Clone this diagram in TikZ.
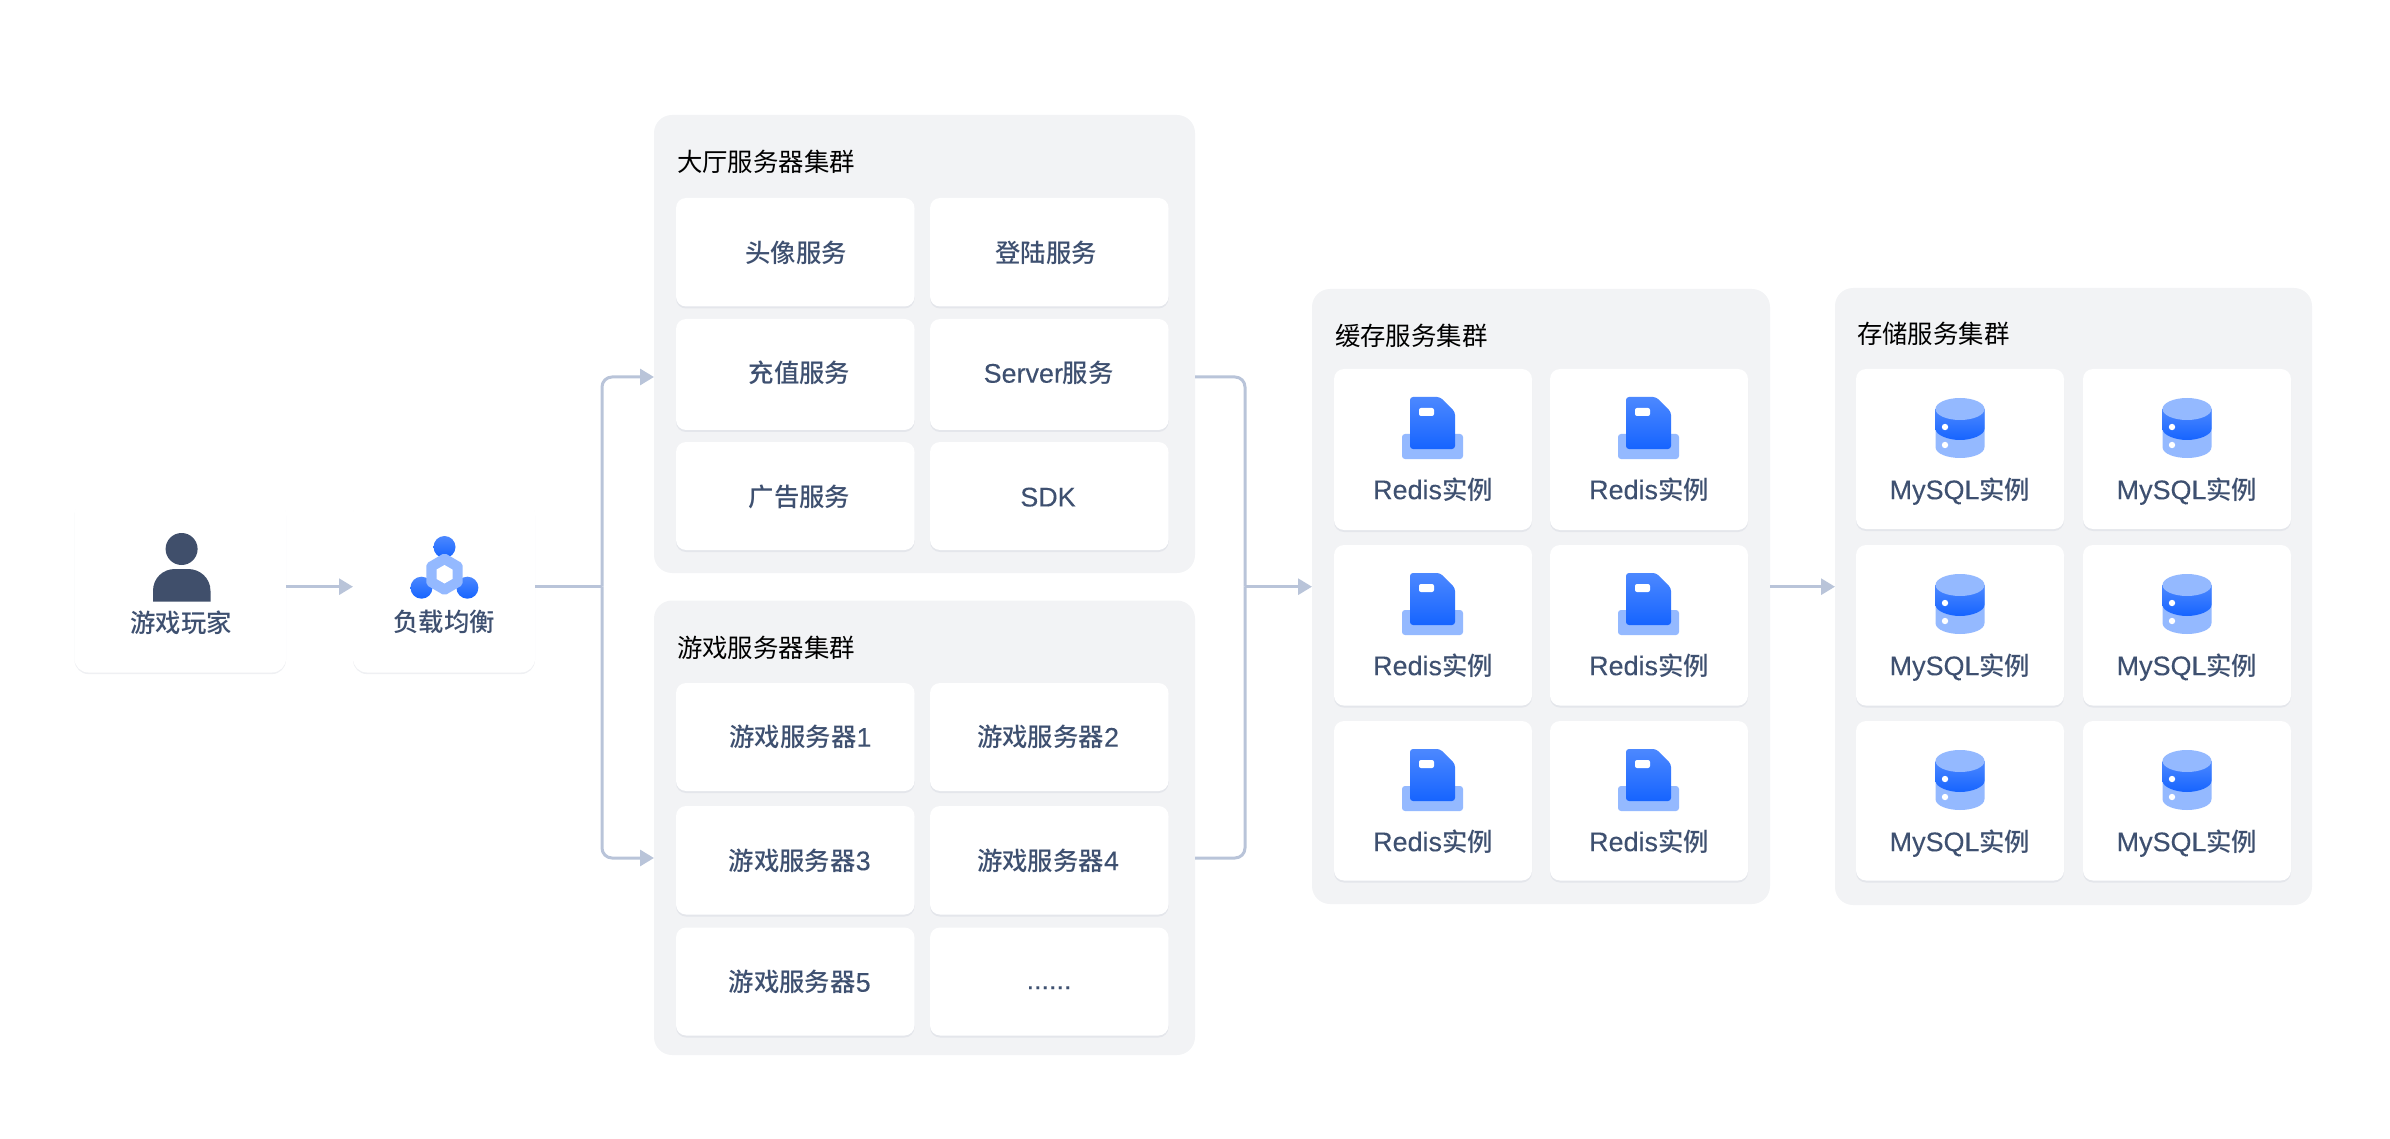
\documentclass[tikz,border=0pt]{standalone}
\usepackage{fontspec}
\setmainfont{Noto Sans CJK SC}
\newfontfamily\medcjk{Noto Sans CJK SC Medium}
\newfontfamily\lat[Scale=1.06,FakeBold=0.12]{Liberation Sans}
\usetikzlibrary{arrows.meta,shadows,calc}
\definecolor{panelgray}{HTML}{F2F3F5}
\definecolor{shadowgray}{HTML}{E4E6EB}
\definecolor{softshadow}{HTML}{EFF0F3}
\definecolor{cardtext}{HTML}{3E5070}
\definecolor{connline}{HTML}{B9C4D9}
\definecolor{lightblue}{HTML}{94B9FF}
\definecolor{gradtop}{HTML}{4C88FF}
\definecolor{gradbot}{HTML}{1664FF}
\definecolor{usernavy}{HTML}{404F6B}
\newcommand{\boxnode}[6]{\node[#2,minimum width={(#5-#3)*0.5pt},minimum height={(#6-#4)*0.5pt}] (#1) at ({(#3+#5)/2},{(#4+#6)/2}) {};}
\tikzset{
  txt/.style={font=\fontsize{12.7pt}{15pt}\selectfont,inner sep=0pt,outer sep=0pt,text height=11.2pt,text depth=1.5pt},
  panelbox/.style={fill=panelgray,rounded corners=9pt,inner sep=0pt,outer sep=0pt},
  cardbox/.style={fill=white,inner sep=0pt,outer sep=0pt,rounded corners=5pt,general shadow={fill=shadowgray,shadow yshift=-1pt}},
  topcard/.style={fill=white,rounded corners=7pt,inner sep=0pt,outer sep=0pt,general shadow={fill=softshadow,shadow yshift=-0.8pt}},
  paneltitle/.style={txt,text=black,anchor=west},
  cardlabel/.style={txt,text=cardtext,font=\fontsize{12.7pt}{15pt}\selectfont\medcjk},
  conn/.style={draw=connline,line width=1.5pt},
  connarrow/.style={conn,-{Triangle[length=7pt,width=8pt]}},
  roundbend/.style={rounded corners=5pt},
  redisicon/.pic={
    \fill[lightblue,rounded corners=1.5pt] (-31,65) rectangle (30,90);
    \shade[top color=gradtop,bottom color=gradbot,rounded corners=1.5pt] (-23,28) -- (7,28) -- (22,43) -- (22,80) -- (-23,80) -- cycle;
    \fill[white,rounded corners=1pt] (-14,39) rectangle (1,47);
  },
  dbicon/.pic={
    \fill[lightblue] (-24.5,40) -- (-24.5,78) .. controls (-24.5,85) and (-12,89) .. (0,89) .. controls (12,89) and (24.5,85) .. (24.5,78) -- (24.5,40) -- cycle;
    \shade[top color=gradtop,bottom color=gradbot] (-24.5,40) -- (-24.5,60) .. controls (-24.5,66) and (-12,71) .. (0,71) .. controls (12,71) and (24.5,66) .. (24.5,60) -- (24.5,40) -- cycle;
    \fill[lightblue] (0,40) ellipse [x radius=24.5,y radius=11];
    \fill[white] (-15,58) circle [radius=3.2];
    \fill[white] (-15,76) circle [radius=3.2];
  },
}
\begin{document}
\begin{tikzpicture}[x=0.5pt,y=-0.5pt]
\useasboundingbox (0,0) rectangle (2390,1139);
% coordinates for connector levels
\coordinate (midy) at (0,586.7);
\coordinate (hallin) at (0,377);
\coordinate (gamein) at (0,858);
\coordinate (busL) at (602,586.7);
\coordinate (busR) at (1245,586.7);
% top-level cards
\boxnode{player}{topcard}{74.5}{500}{286}{672.5}
\boxnode{lb}{topcard}{353}{500}{535}{672.5}
\fill[usernavy] (181.6,549) circle [radius=16];
\fill[usernavy] (153,601.7) -- (153,591) .. controls (153,578) and (163,569) .. (175,569) -- (188,569) .. controls (200,569) and (210.5,578) .. (210.5,591) -- (210.5,601.7) -- cycle;
\node[cardlabel] (playerlabel) at (181,623) {游戏玩家};
\shade[top color=gradtop,bottom color=gradbot] (444.5,547) circle [radius=11];
\shade[top color=gradtop,bottom color=gradbot] (421.5,587.7) circle [radius=11];
\shade[top color=gradtop,bottom color=gradbot] (467.4,587.7) circle [radius=11];
\fill[lightblue,rounded corners=1pt] (444.5,553) -- (462.6,563.5) -- (462.6,585) -- (444.5,595.5) -- (426.4,585) -- (426.4,563.5) -- cycle;
\fill[white] (444.5,565) -- (452.5,569.6) -- (452.5,578.9) -- (444.5,583.5) -- (436.5,578.9) -- (436.5,569.6) -- cycle;
\node[cardlabel] (lblabel) at (444,622) {负载均衡};
% hall cluster
\boxnode{hall}{panelbox}{654}{115}{1195}{573}
\node[paneltitle] (halltitle) at (677,162) {大厅服务器集群};
\boxnode{h11}{cardbox}{676}{198}{914.5}{306.5}
\boxnode{h12}{cardbox}{930}{198}{1168.5}{306.5}
\boxnode{h21}{cardbox}{676}{319}{914.5}{430}
\boxnode{h22}{cardbox}{930}{319}{1168.5}{430}
\boxnode{h31}{cardbox}{676}{442}{914.5}{550}
\boxnode{h32}{cardbox}{930}{442}{1168.5}{550}
\node[cardlabel] (h11t) at (796,252.7) {头像服务};
\node[cardlabel] (h12t) at (1046,252.7) {登陆服务};
\node[cardlabel] (h21t) at (799.5,373) {充值服务};
\node[cardlabel] (h22t) at (1048.7,373) {{\lat Server}服务};
\node[cardlabel] (h31t) at (799.5,496.7) {广告服务};
\node[cardlabel] (h32t) at (1048,496.7) {{\lat SDK}};
% game cluster
\boxnode{game}{panelbox}{654}{600.5}{1195}{1055}
\node[paneltitle] (gametitle) at (677,648) {游戏服务器集群};
\boxnode{g11}{cardbox}{676}{683}{914.5}{791}
\boxnode{g12}{cardbox}{930}{683}{1168.5}{791}
\boxnode{g21}{cardbox}{676}{806}{914.5}{914.5}
\boxnode{g22}{cardbox}{930}{806}{1168.5}{914.5}
\boxnode{g31}{cardbox}{676}{927.5}{914.5}{1035.5}
\boxnode{g32}{cardbox}{930}{927.5}{1168.5}{1035.5}
\node[cardlabel] (g11t) at (800.5,737) {游戏服务器{\lat 1}};
\node[cardlabel] (g12t) at (1048,737) {游戏服务器{\lat 2}};
\node[cardlabel] (g21t) at (799.7,860.5) {游戏服务器{\lat 3}};
\node[cardlabel] (g22t) at (1048,860.5) {游戏服务器{\lat 4}};
\node[cardlabel] (g31t) at (799.7,982) {游戏服务器{\lat 5}};
\node[cardlabel] (g32t) at (1049,979.5) {{\lat ......}};
% cache cluster
\boxnode{cache}{panelbox}{1312}{289}{1770}{904}
\node[paneltitle] (cachetitle) at (1335,336) {缓存服务集群};
\foreach \r/\t/\b in {1/369/530,2/545/705.6,3/721/880.5}{
  \foreach \c/\l/\h in {1/1334/1532,2/1550/1748}{
    \boxnode{r\r\c}{cardbox}{\l}{\t}{\h}{\b}
    \pic at ({(\l+\h)/2},\t) {redisicon};
    \node[cardlabel] (rl\r\c) at ({(\l+\h)/2},\t+120.5) {{\lat Redis}实例};
  }
}
% storage cluster
\boxnode{store}{panelbox}{1835}{288}{2312}{905}
\node[paneltitle] (storetitle) at (1857,334) {存储服务集群};
\foreach \r/\t/\b in {1/369/529,2/545/705.6,3/721/880.5}{
  \foreach \c/\l/\h in {1/1856/2064,2/2083/2291}{
    \boxnode{m\r\c}{cardbox}{\l}{\t}{\h}{\b}
    \pic at ({(\l+\h)/2},\t) {dbicon};
    \node[cardlabel] (ml\r\c) at ({(\l+\h)/2},\t+120.5) {{\lat MySQL}实例};
  }
}
% connectors
\draw[connarrow] (player.east |- midy) -- (lb.west |- midy);
\draw[conn] (lb.east |- midy) -- (busL);
\draw[connarrow,roundbend] (busL) |- (hall.west |- hallin);
\draw[connarrow,roundbend] (busL) |- (game.west |- gamein);
\draw[conn,roundbend] (hall.east |- hallin) -| (busR);
\draw[conn,roundbend] (game.east |- gamein) -| (busR);
\draw[connarrow] (busR) -- (cache.west |- midy);
\draw[connarrow] (cache.east |- midy) -- (store.west |- midy);
\end{tikzpicture}
\end{document}
